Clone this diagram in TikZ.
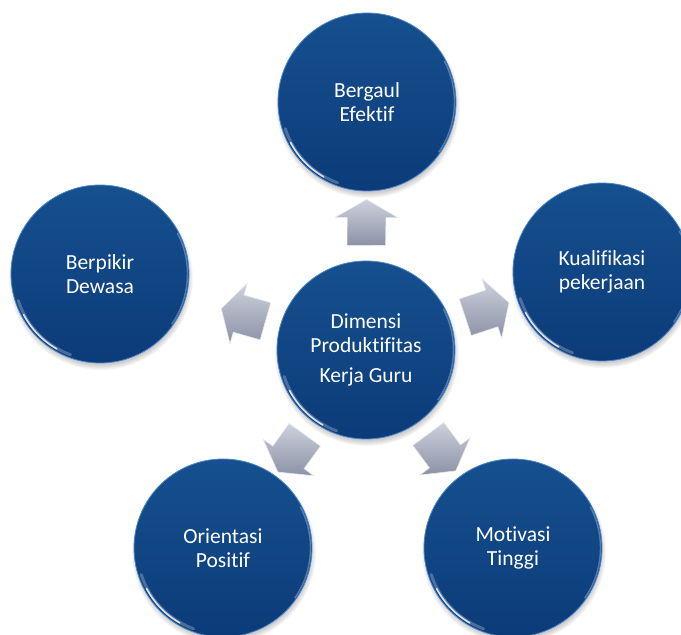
\documentclass[tikz,border=0pt]{standalone}
\usepackage{fontspec}
\setmainfont{Carlito}[Ligatures=NoCommon]
\usetikzlibrary{calc,shapes.arrows}
\definecolor{NavyTop}{HTML}{16508F}
\definecolor{NavyDark}{HTML}{0C3B79}
\definecolor{NavyRim}{HTML}{4C86C8}
\definecolor{SteelLight}{HTML}{CDD1DC}
\definecolor{SteelDark}{HTML}{8C92A6}

\tikzset{
  bubble/.style={circle,minimum size=178pt,inner sep=0pt,
    top color=NavyTop,bottom color=NavyDark,draw=NavyRim,line width=.8pt,
    text=white,align=center,font=\fontsize{21.5}{23.5}\selectfont},
  pointer/.style={single arrow,minimum height=46pt,minimum width=62pt,
    inner xsep=0pt,inner ysep=19pt,
    single arrow head extend=12pt,single arrow tip angle=120,
    top color=SteelLight,bottom color=SteelDark,draw=white!80!SteelDark,line width=.6pt},
}
% glossy edge on a bubble
\newcommand\glint[1]{%
  \draw[white,line width=3pt,opacity=.25,line cap=round]
    ([shift={(198:86pt)}]#1.center) arc[start angle=198,end angle=250,radius=86pt];
  \draw[white,line width=1.6pt,opacity=.8,line cap=round]
    ([shift={(208:86.5pt)}]#1.center) arc[start angle=208,end angle=240,radius=86.5pt];
  \draw[NavyRim!50!white,line width=1.4pt,opacity=.45]
    ([shift={(-35:87.5pt)}]#1.center) arc[start angle=-35,end angle=28,radius=87.5pt];
}

\begin{document}
\begin{tikzpicture}[x=1pt,y=1pt]
  \useasboundingbox (0,0) rectangle (681,635);
  % centres
  \coordinate (hub) at (366,285);
  \coordinate (pT) at (367,533);
  \coordinate (pL) at (100,361);
  \coordinate (pR) at (602,363);
  \coordinate (pBL) at (223,87);
  \coordinate (pBR) at (513,87);
  % soft shadows
  \foreach \p in {hub,pT,pL,pR,pBL,pBR}
    \foreach \r in {1,...,6}
      \fill[black,opacity=.035] ($(\p)+(1,-4)$) circle (86+\r);
  \node[bubble] (dimensi) at (hub) {Dimensi\\Produktifitas\\[7pt]Kerja Guru};
  \node[bubble] (bergaul) at (pT) {Bergaul\\Efektif};
  \node[bubble] (berpikir) at (pL) {Berpikir\\Dewasa};
  \node[bubble] (kualifikasi) at (pR) {Kualifikasi\\pekerjaan};
  \node[bubble] (orientasi) at (pBL) {Orientasi\\Positif};
  \node[bubble] (motivasi) at (pBR) {Motivasi\\Tinggi};
  \foreach \n in {dimensi,bergaul,berpikir,kualifikasi,orientasi,motivasi}
    \glint{\n};
  % arrows out of the hub
  \foreach \t in {bergaul,berpikir,kualifikasi,orientasi,motivasi}
    \path let \p1=($(\t.center)-(dimensi.center)$),\n1={atan2(\y1,\x1)} in
      node[pointer,rotate=\n1] (arw-\t) at ($(dimensi.center)!122pt!(\t.center)$) {};
\end{tikzpicture}
\end{document}
